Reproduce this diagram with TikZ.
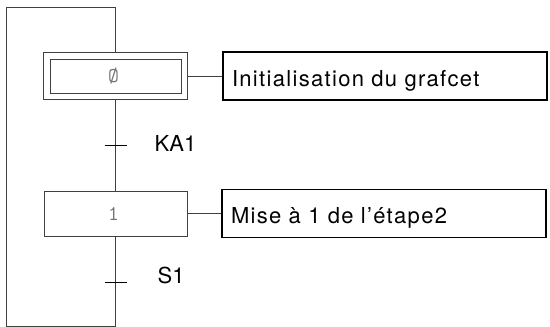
\documentclass[tikz,border=0pt]{standalone}
\usepackage{fontspec}
\setmainfont{TeX Gyre Heros}
\newfontfamily\actfont[LetterSpace=6]{TeX Gyre Heros}
\usepackage{xcolor}
\usepackage{tikz}
\usetikzlibrary{%
  positioning,
  fit,
  calc}
\tikzset{
  %% Grafcet steps
  stepbox/.style={
    rectangle, draw=black!75, line width=0.8pt, fill=white,
    minimum width=143pt, minimum height=45pt, inner sep=0pt,
    font=\fontsize{21}{21}\selectfont\ttfamily, text=black!55},
  %% Outer frame of the initial step
  stepframe/.style={
    rectangle, draw=black!75, line width=0.8pt,
    inner sep=6pt, outer sep=0pt},
  %% Action boxes
  actbox/.style={
    rectangle, draw=black, line width=1.4pt, fill=white,
    text width=306pt, align=left, inner xsep=9pt, inner ysep=0pt,
    text height=20pt, text depth=0pt,
    minimum height=48pt, font=\fontsize{22}{26}\selectfont\actfont},
  %% Transition bar
  transbar/.style={
    rectangle, minimum width=22pt, minimum height=0pt,
    inner sep=0pt, outer sep=0pt},
  %% Receptivity labels
  recept/.style={
    font=\fontsize{22}{26}\selectfont, inner sep=0pt},
  %% Links
  link/.style={line width=0.9pt, black!75},
  bar/.style={line width=0.9pt, black},
}
\begin{document}
\begin{tikzpicture}[x=1pt, y=-1pt]
  \useasboundingbox (0,0) rectangle (550,327);

  %% Steps
  \node[stepbox, minimum width=131pt, minimum height=34pt]
        (step0) at (115.5,76) {\kern-4pt Ø};
  \node[stepframe, fit=(step0)] (step0f) {};
  \node[stepbox] (step1) at (115.5,213.5) {\kern-4pt 1};

  %% Transitions
  \node[transbar] (t1) at (115.5,145) {};
  \node[transbar] (t2) at (115.5,282) {};
  \node[recept, right=28pt of t1, yshift=1.5pt] (ka1) {KA1};
  \node[recept, right=31pt of t2, yshift=7pt]   (s1)  {S1};

  %% Actions
  \node[actbox] (act0) at (385,76)    {Initialisation du grafcet};
  \node[actbox] (act1) at (384,213.5) {Mise à 1 de l’étape2};

  %% Loop corners
  \coordinate (lp1) at (115.5,326);
  \coordinate (lp2) at (6,326);
  \coordinate (lp3) at (6,7);
  \coordinate (lp4) at (115.5,7);

  %% Links
  \draw[link] (step0f.south) -- (t1.center);
  \draw[link] (t1.center) -- (step1.north);
  \draw[link] (step1.south) -- (t2.center);
  \draw[link] (t2.center) -- (lp1) -- (lp2) -- (lp3) -- (lp4)
              -- (step0f.north);
  \draw[link] (step0f.east) -- (act0.west);
  \draw[link] (step1.east) -- (act1.west);

  %% Transition bars
  \draw[bar] (t1.west) -- (t1.east);
  \draw[bar] (t2.west) -- (t2.east);

\end{tikzpicture}
\end{document}
